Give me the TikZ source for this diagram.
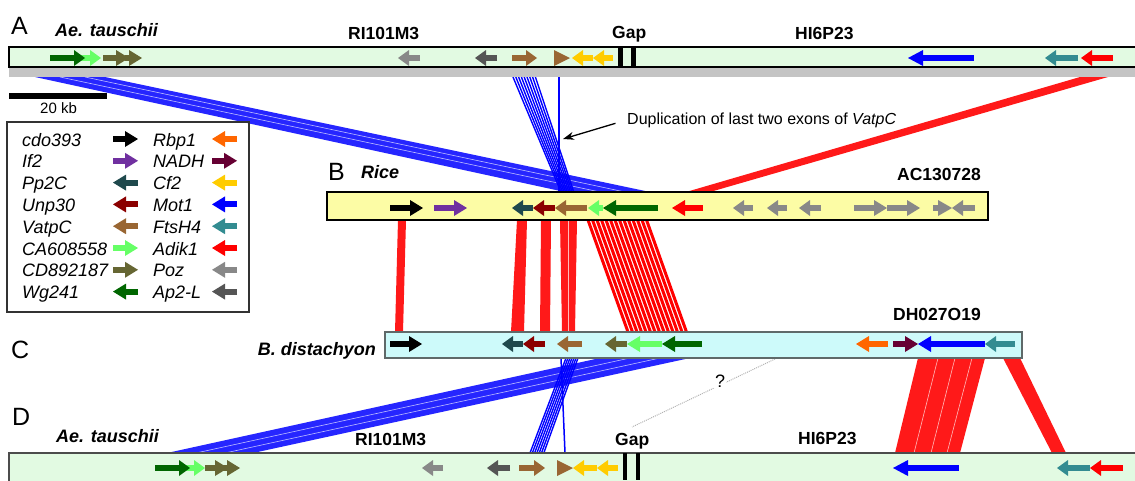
\documentclass[tikz,border=0pt]{standalone}
\usepackage{fontspec}
\setmainfont{Liberation Sans}
\usetikzlibrary{arrows.meta}

\definecolor{barA}{RGB}{226,250,226}
\definecolor{riceC}{RGB}{252,252,165}
\definecolor{bdC}{RGB}{205,250,250}
\definecolor{bdborder}{RGB}{95,105,105}
\definecolor{shadowC}{RGB}{196,196,196}
\definecolor{cdo}{RGB}{0,0,0}
\definecolor{ifii}{RGB}{112,48,160}
\definecolor{ppc}{RGB}{31,73,77}
\definecolor{unp}{RGB}{139,0,0}
\definecolor{vatpc}{RGB}{153,102,51}
\definecolor{ca}{RGB}{102,255,102}
\definecolor{cd}{RGB}{102,102,51}
\definecolor{wg}{RGB}{0,102,0}
\definecolor{rbp}{RGB}{255,102,0}
\definecolor{nadh}{RGB}{102,0,51}
\definecolor{cf}{RGB}{255,204,0}
\definecolor{mot}{RGB}{0,0,255}
\definecolor{fts}{RGB}{51,140,145}
\definecolor{adik}{RGB}{255,0,0}
\definecolor{poz}{RGB}{136,136,136}
\definecolor{ap}{RGB}{85,85,85}

\begin{document}
\begin{tikzpicture}[x=1pt,y=-1pt,
    gene/.style={line width=6pt,-{Triangle[length=#1,width=16pt,line width=0pt]}},
    gene/.default=11pt,
    bigletter/.style={font=\fontsize{25}{28}\selectfont,anchor=base west,inner sep=0pt},
    species/.style={font=\fontsize{18}{21}\selectfont\bfseries\itshape,anchor=base west,inner sep=0pt},
    clone/.style={font=\fontsize{17.5}{20}\selectfont\bfseries,anchor=base west,inner sep=0pt},
    legname/.style={font=\fontsize{18}{21}\selectfont\itshape,anchor=base west,inner sep=0pt},
    blueband/.style={fill=mot,fill opacity=0.85},
    redband/.style={fill=adik,fill opacity=0.9},
    texture/.style={white,line width=0.6pt,opacity=0.7}]
    \useasboundingbox (0,0) rectangle (1135,480);

    % synteny A -> B
    \fill[blueband] (35,77) -- (105,77) -- (650,192) -- (565,192) -- cycle;
    \draw[texture] (60,77) -- (600,192);
    \draw[texture] (85,77) -- (625,192);
    \foreach \k in {0,...,8}
        \draw[mot,line width=1.4pt] (513+2.8*\k,77) -- (561+1.6*\k,192);
    \draw[mot,line width=1.5pt] (559,77) -- (559,192);
    \draw[black,line width=1.5pt] (559,67) -- (559,77);
    \fill[redband] (1080,77) -- (1108,77) -- (710,192) -- (686,192) -- cycle;

    % synteny B -> C
    \fill[redband] (398,220) -- (406,220) -- (403,332) -- (395,332) -- cycle;
    \fill[redband] (517,220) -- (527,220) -- (524,332) -- (511,332) -- cycle;
    \fill[redband] (541,220) -- (551,220) -- (550,332) -- (540,332) -- cycle;
    \fill[redband] (560,220) -- (577,220) -- (575,332) -- (562,332) -- cycle;
    \draw[texture] (568,220) -- (568,332);
    \foreach \k in {0,...,13}
        \draw[adik,line width=3pt] (588+4.5*\k,220) -- (628+4.5*\k,332);

    % synteny C -> D
    \fill[redband] (918,358) -- (985,358) -- (960,453) -- (895,453) -- cycle;
    \draw[texture] (938,358) -- (914,453);
    \draw[texture] (955,358) -- (931,453);
    \draw[texture] (972,358) -- (947,453);
    \fill[redband] (1003,358) -- (1020,358) -- (1066,453) -- (1052,453) -- cycle;
    \fill[blueband] (600,358) -- (690,358) -- (253,453) -- (167,453) -- cycle;
    \draw[texture] (630,358) -- (196,453);
    \draw[texture] (660,358) -- (225,453);
    \foreach \k in {0,...,6}
        \draw[mot,line width=1.4pt] (566+2*\k,358) -- (530+2.3*\k,453);
    \draw[mot,line width=1.5pt] (561,358) -- (565,453);

    % unknown link
    \coordinate (qa) at (775,359);
    \coordinate (qb) at (632,427);
    \draw[black!30,densely dotted,line width=1pt] (qa) -- (qb);
    \node[fill=white,inner sep=1pt,font=\fontsize{18}{20}\selectfont] (qmark) at (720,381) {?};

    % bars
    \fill[shadowC] (9,67) rectangle (1137,77);
    \draw[line width=1.5pt,fill=barA] (9,47) rectangle (1137,67);
    \draw[line width=1.5pt,fill=riceC] (327,192) rectangle (988,220);
    \draw[line width=1.5pt,draw=bdborder,fill=bdC] (385,332) rectangle (1022,358);
    \draw[line width=1.5pt,draw=black!70,fill=barA] (9,453) rectangle (1137,482);
    \fill (618,47) rectangle (623,68);
    \fill (631,47) rectangle (636,68);
    \fill (623,453) rectangle (627,480);
    \fill (636,453) rectangle (640,480);

    % genes A
    \draw[gene,ca] (80,58) -- (101,58);
    \draw[gene,wg] (50,58) -- (85,58);
    \draw[gene=13pt,cd] (103,58) -- (129,58);
    \draw[gene=13pt,cd] (125,58) -- (142,58);
    \draw[gene,poz] (420,58) -- (398,58);
    \draw[gene,ap] (497,58) -- (475,58);
    \draw[gene,vatpc] (512,58) -- (537,58);
    \draw[gene=16pt,vatpc] (554,58) -- (570,58);
    \draw[gene,cf] (593,58) -- (572,58);
    \draw[gene,cf] (613,58) -- (593,58);
    \draw[gene=15pt,mot] (974,58) -- (908,58);
    \draw[gene,fts] (1078,58) -- (1045,58);
    \draw[gene,adik] (1113,58) -- (1081,58);

    % genes B
    \draw[gene=13pt,cdo] (390,208) -- (423,208);
    \draw[gene=13pt,ifii] (434,208) -- (467,208);
    \draw[gene,ppc] (533,208) -- (512,208);
    \draw[gene,unp] (555,208) -- (533,208);
    \draw[gene,vatpc] (587,208) -- (555,208);
    \draw[gene,ca] (603,208) -- (588,208);
    \draw[gene=13pt,wg] (658,208) -- (603,208);
    \draw[gene=13pt,adik] (703,208) -- (672,208);
    \draw[gene,poz] (753,208) -- (733,208);
    \draw[gene,poz] (787,208) -- (767,208);
    \draw[gene,poz] (821,208) -- (799,208);
    \draw[gene=13pt,poz] (854,208) -- (887,208);
    \draw[gene=13pt,poz] (887,208) -- (920,208);
    \draw[gene=14pt,poz] (933,208) -- (952,208);
    \draw[gene,poz] (975,208) -- (952,208);

    % genes C
    \draw[gene=13pt,cdo] (390,344) -- (422,344);
    \draw[gene,ppc] (523,344) -- (502,344);
    \draw[gene,unp] (545,344) -- (523,344);
    \draw[gene,vatpc] (582,344) -- (557,344);
    \draw[gene,cd] (627,344) -- (605,344);
    \draw[gene=13pt,ca] (662,344) -- (627,344);
    \draw[gene=13pt,wg] (702,344) -- (662,344);
    \draw[gene=13pt,rbp] (888,344) -- (856,344);
    \draw[gene=13pt,nadh] (893,344) -- (918,344);
    \draw[gene=13pt,mot] (985,344) -- (918,344);
    \draw[gene,fts] (1015,344) -- (985,344);

    % genes D
    \draw[gene,ca] (186,468) -- (205,468);
    \draw[gene,wg] (155,468) -- (190,468);
    \draw[gene=13pt,cd] (205,468) -- (228,468);
    \draw[gene=13pt,cd] (222,468) -- (240,468);
    \draw[gene,poz] (443,468) -- (422,468);
    \draw[gene,ap] (510,468) -- (487,468);
    \draw[gene,vatpc] (519,468) -- (545,468);
    \draw[gene=16pt,vatpc] (557,468) -- (573,468);
    \draw[gene,cf] (597,468) -- (573,468);
    \draw[gene,cf] (618,468) -- (597,468);
    \draw[gene=15pt,mot] (959,468) -- (893,468);
    \draw[gene,fts] (1090,468) -- (1057,468);
    \draw[gene,adik] (1123,468) -- (1090,468);

    % labels
    \node[bigletter] (labA) at (11,34) {A};
    \node[species] (spA) at (55,36) {Ae. tauschii};
    \node[clone] (cloneA1) at (348,39) {RI101M3};
    \node[clone] (gapA) at (612,38) {Gap};
    \node[clone] (cloneA2) at (795,39) {HI6P23};
    \node[bigletter] (labB) at (328,180) {B};
    \node[species] (spB) at (361,178) {Rice};
    \node[clone] (cloneB) at (897,180) {AC130728};
    \node[bigletter] (labC) at (11,358) {C};
    \node[species,anchor=base east] (spC) at (376,355) {B. distachyon};
    \node[clone] (cloneC) at (893,320) {DH027O19};
    \node[bigletter] (labD) at (12,425) {D};
    \node[species] (spD) at (56,442) {Ae. tauschii};
    \node[clone] (cloneD1) at (355,445) {RI101M3};
    \node[clone] (gapD) at (615,445) {Gap};
    \node[clone] (cloneD2) at (798,444) {HI6P23};

    % scale bar
    \fill (9,93) rectangle (107,99);
    \node[font=\fontsize{15}{18}\selectfont,anchor=base west,inner sep=0pt] (kb) at (40,113) {20 kb};

    % duplication note
    \node[font=\fontsize{16}{19}\selectfont,anchor=base west,inner sep=0pt] (dup) at (627,124)
        {Duplication of last two exons of \textit{VatpC}};
    \coordinate (dupend) at (563,139);
    \draw[-{Stealth[length=11pt,width=8pt]},line width=1.3pt,shorten <=12pt] (dup.west) -- (dupend);

    % legend
    \draw[line width=1.5pt,draw=black!80] (7,122) rectangle (249,312);
    \foreach \nm/\col/\dir [count=\i from 0] in {cdo393/cdo/1,If2/ifii/1,Pp2C/ppc/-1,Unp30/unp/-1,
            VatpC/vatpc/-1,CA608558/ca/1,CD892187/cd/1,Wg241/wg/-1}
    {
        \node[legname] (legL\i) at (22,146+21.8*\i) {\nm};
        \draw[gene=13pt,\col] (125.5-12.5*\dir,139+21.8*\i) -- (125.5+12.5*\dir,139+21.8*\i);
    }
    \foreach \nm/\col/\dir [count=\i from 0] in {Rbp1/rbp/-1,NADH/nadh/1,Cf2/cf/-1,Mot1/mot/-1,
            FtsH4/fts/-1,Adik1/adik/-1,Poz/poz/-1,Ap2-L/ap/-1}
    {
        \node[legname] (legR\i) at (153,146+21.8*\i) {\nm};
        \draw[gene=13pt,\col] (224.5-12.5*\dir,139+21.8*\i) -- (224.5+12.5*\dir,139+21.8*\i);
    }
\end{tikzpicture}
\end{document}
